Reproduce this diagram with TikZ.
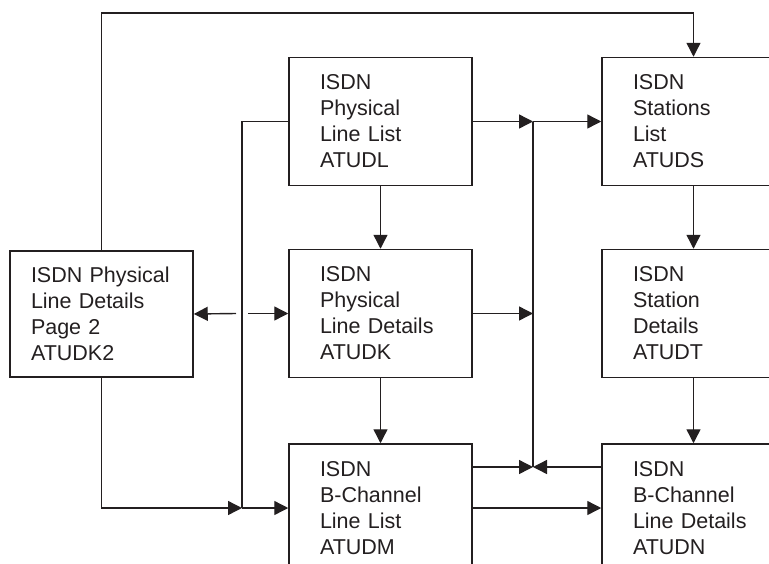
\documentclass[tikz,border=0pt]{standalone}
\usepackage{fontspec}
\setmainfont{Liberation Sans}
\usetikzlibrary{arrows.meta}
\definecolor{ink}{RGB}{35,31,32}
\begin{document}
\begin{tikzpicture}[x=1pt,y=-1pt,
  box/.style={draw=ink, line width=1.5pt, rectangle, minimum width=183pt, minimum height=128pt,
     inner ysep=0pt, inner xsep=31pt, text width=121pt, align=left, text=ink,
     font=\fontsize{21.5}{26}\selectfont},
  leftbox/.style={box, inner xsep=21pt, text width=141pt, minimum height=126pt},
  conn/.style={draw=ink, line width=1.4pt},
  arr/.style={conn, -{Triangle[length=14pt,width=14pt]}}]
\useasboundingbox (0,0) rectangle (769,563);
\node[leftbox] (k2) at (101.5,314) {ISDN Physical\\Line Details\\Page 2\\ATUDK2};
\node[box] (l) at (380.5,121.5) {ISDN\\Physical\\Line List\\ATUDL};
\node[box] (k) at (380.5,313.5) {ISDN\\Physical\\Line Details\\ATUDK};
\node[box] (m) at (380.5,508) {ISDN\\B-Channel\\Line List\\ATUDM};
\node[box] (s) at (693.5,121.5) {ISDN\\Stations\\List\\ATUDS};
\node[box] (t) at (693.5,313.5) {ISDN\\Station\\Details\\ATUDT};
\node[box] (n) at (693.5,508) {ISDN\\B-Channel\\Line Details\\ATUDN};
\coordinate (ytop) at (0,13);
\coordinate (bx) at (242,0);
\coordinate (rx) at (533,0);
\coordinate (jy) at (0,467);
% top loop
\draw[arr] (k2.north) -- (k2.north |- ytop) -| (s.north);
% left bus
\draw[conn] (l.west) -| (bx |- m.west);
\draw[arr] (bx |- m.west) -- (m.west);
\draw[arr] (k2.south) |- (bx |- m.west);
\draw[arr] ([xshift=-6pt]bx |- k.west) -- (k2.east);
\draw[arr] ([xshift=6pt]bx |- k.west) -- (k.west);
% right bus
\draw[arr] (l.east) -- (rx |- l.east);
\draw[arr] (rx |- l.east) -- (s.west);
\draw[conn] (rx |- l.east) -- (rx |- jy);
\draw[arr] (k.east) -- (rx |- k.east);
\draw[arr] (m.east |- jy) -- (rx |- jy);
\draw[arr] (n.west |- jy) -- (rx |- jy);
\draw[arr] (m.east) -- (n.west);
% vertical arrows
\draw[arr] (l.south) -- (k.north);
\draw[arr] (k.south) -- (m.north);
\draw[arr] (s.south) -- (t.north);
\draw[arr] (t.south) -- (n.north);
\end{tikzpicture}
\end{document}
